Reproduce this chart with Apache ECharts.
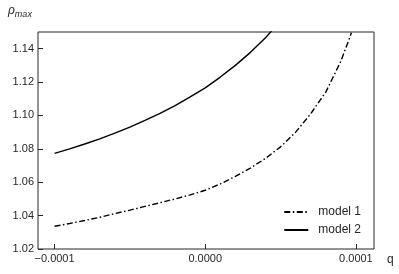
<!DOCTYPE html>
<html><head><meta charset="utf-8">
<script src="https://cdn.jsdelivr.net/npm/echarts@6/dist/echarts.min.js"></script>
<style>html,body{margin:0;padding:0;background:#fff}#c{width:399px;height:274px}</style>
</head><body><div id="c"></div>
<script>
const qModel1 = [-1.0e-4,-0.9e-4,-0.8e-4,-0.7e-4,-0.6e-4,-0.5e-4,-0.4e-4,-0.3e-4,-0.2e-4,-0.1e-4,0,0.1e-4,0.2e-4,0.3e-4,0.4e-4,0.5e-4,0.6e-4,0.7e-4,0.8e-4,0.9e-4,0.95e-4,0.97e-4];
const rhoModel1 = [1.0336,1.0353,1.0371,1.0390,1.0412,1.0433,1.0455,1.0477,1.0500,1.0524,1.0552,1.0590,1.0635,1.0685,1.0743,1.0812,1.0900,1.1010,1.1140,1.1325,1.1445,1.1495];
const qModel2 = [-1.0e-4,-0.9e-4,-0.8e-4,-0.7e-4,-0.6e-4,-0.5e-4,-0.4e-4,-0.3e-4,-0.2e-4,-0.1e-4,0,0.1e-4,0.2e-4,0.3e-4,0.4e-4,0.5e-4];
const rhoModel2 = [1.0773,1.0800,1.0829,1.0860,1.0894,1.0930,1.0970,1.1012,1.1059,1.1111,1.1165,1.1230,1.1300,1.1378,1.1466,1.1566];
const xTicks = [-0.0001, 0, 0.0001];
const yTicks = [1.02,1.04,1.06,1.08,1.10,1.12,1.14];
const seriesNames = ['model 1','model 2'];

const txt = '#262626';
const font = 'Liberation Sans, Arial, sans-serif';
const chart = echarts.init(document.getElementById('c'), null, {renderer:'canvas'});
chart.setOption({
  animation:false,
  grid:{left:38,right:25,top:32,bottom:25,show:true,borderColor:txt,borderWidth:1,backgroundColor:'transparent'},
  xAxis:{type:'value',min:-0.000111,max:0.000112,
    axisLine:{show:false,onZero:false},splitLine:{show:false},
    axisTick:{inside:true,length:5,lineStyle:{color:txt},customValues:xTicks},
    axisLabel:{color:txt,fontFamily:font,fontSize:11,margin:4,customValues:xTicks,
      formatter:v=>v.toFixed(4).replace('-','\u2212')}},
  yAxis:{type:'value',min:1.02,max:1.15,
    axisLine:{show:false,onZero:false},splitLine:{show:false},
    axisTick:{inside:true,length:5,lineStyle:{color:txt},customValues:yTicks},
    axisLabel:{color:txt,fontFamily:font,fontSize:11,margin:4,customValues:yTicks,
      formatter:v=>v.toFixed(2)}},
  legend:{right:33,bottom:33,orient:'vertical',itemWidth:24,itemHeight:10,itemGap:6,
    itemStyle:{opacity:0},
    textStyle:{color:txt,fontFamily:font,fontSize:12,padding:[0,0,0,5]},
    data:seriesNames},
  series:[
    {name:seriesNames[0],type:'line',symbol:'none',showSymbol:false,clip:true,
     data:qModel1.map((q,i)=>[q,rhoModel1[i]]),
     lineStyle:{color:'#000',width:1.4,type:[6,2.5,1.5,2.5]},itemStyle:{color:'#000'}},
    {name:seriesNames[1],type:'line',symbol:'none',showSymbol:false,clip:true,
     data:qModel2.map((q,i)=>[q,rhoModel2[i]]),
     lineStyle:{color:'#000',width:1.4},itemStyle:{color:'#000'}}
  ],
  graphic:[
    {type:'text',left:8,top:5,style:{
      text:'{r|ρ}{s|max}',
      rich:{r:{fontFamily:font,fontStyle:'italic',fontSize:12,fill:txt},
            s:{fontFamily:font,fontStyle:'italic',fontSize:9,fill:txt,padding:[6,0,0,0]}}}},
    {type:'text',left:387,top:254,style:{text:'q',fontFamily:font,fontSize:12,fill:txt}}
  ]
});
</script></body></html>
